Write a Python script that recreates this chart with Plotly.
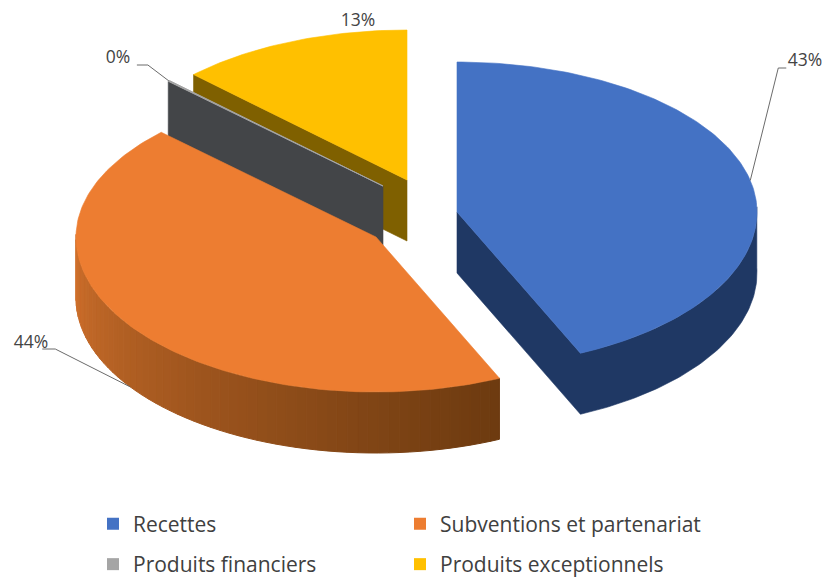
import math
import plotly.graph_objects as go

categories = ["Recettes", "Subventions et partenariat", "Produits financiers", "Produits exceptionnels"]
values = [43.25, 44.05, 0.1, 12.6]

top_colors = ["#4472C4", "#ED7D31", "#A5A5A5", "#FFC000"]
wall_colors = ["#1F3864", "#843C0C", "#434548", "#7F6000"]
centers = [(457, 212), (376, 237), (383, 186), (407, 180)]
RX, RY, RY_FRONT, DEPTH = 300, 150, 155, 61

total = sum(values)
angles = []
cum = 0
for v in values:
    angles.append((cum * 360 / total, (cum + v) * 360 / total))
    cum += v


def rim(c, a, dy=0):
    t = math.radians(a)
    ct = math.cos(t)
    ry = RY if ct > 0 else RY_FRONT
    return c[0] + RX * math.sin(t), c[1] - ry * ct + dy


def arc(c, a0, a1, dy=0):
    n = max(2, int(abs(a1 - a0) / 1.0) + 1)
    return [rim(c, a0 + (a1 - a0) * i / (n - 1), dy) for i in range(n)]


def lerp_hex(a, b, f):
    ca = [int(a[i:i + 2], 16) for i in (1, 3, 5)]
    cb = [int(b[i:i + 2], 16) for i in (1, 3, 5)]
    return "#%02x%02x%02x" % tuple(round(x + (y - x) * f) for x, y in zip(ca, cb))


fig = go.Figure()


def poly(pts, color, lw=0.6):
    xs = [p[0] for p in pts] + [pts[0][0]]
    ys = [p[1] for p in pts] + [pts[0][1]]
    fig.add_trace(go.Scatter(x=xs, y=ys, mode="lines", fill="toself", fillcolor=color,
                             line=dict(color=color, width=lw), hoverinfo="skip", showlegend=False))


def cut_wall(i, a):
    c = centers[i]
    p = rim(c, a)
    poly([c, p, (p[0], p[1] + DEPTH), (c[0], c[1] + DEPTH)], wall_colors[i])


# draw back to front: yellow, gray, orange, blue
cut_wall(3, angles[3][0])
poly([centers[3]] + arc(centers[3], *angles[3]), top_colors[3])
cut_wall(2, angles[2][0])
poly([centers[2]] + arc(centers[2], *angles[2]), top_colors[2], 1)
# orange outer wall with a lighting gradient
a0, a1 = angles[1][0], 271
n_seg = 58
for k in range(n_seg):
    s0 = a0 + (a1 - a0) * k / n_seg
    s1 = a0 + (a1 - a0) * (k + 1) / n_seg
    f = k / (n_seg - 1)
    col = lerp_hex("#6E3B10", "#D0702C", f ** 1.1)
    poly(arc(centers[1], s0, s1) + arc(centers[1], s1, s0, DEPTH), col, 1)
poly([centers[1]] + arc(centers[1], *angles[1]), top_colors[1])
# blue walls, as one outline (cut face plus outer rim)
c0 = centers[0]
poly([c0, (c0[0], c0[1] + DEPTH)] + arc(c0, angles[0][1], 88, DEPTH) + arc(c0, 88, angles[0][1]),
     wall_colors[0])
poly([c0] + arc(c0, *angles[0]), top_colors[0])

# leader lines, anchored on each slice's mid angle
mids = [(a + b) / 2 for a, b in angles]
p0 = rim(centers[0], mids[0])
p1 = rim(centers[1], mids[1], DEPTH)
p2 = rim(centers[2], mids[2])
leaders = [
    [p0, (p0[0] + 28, 68), (p0[0] + 36, 68)],
    [p1, (p1[0] - 75, 349), (p1[0] - 88, 349)],
    [p2, (p2[0] - 21, 65), (p2[0] - 32, 65)],
]
for L in leaders:
    fig.add_trace(go.Scatter(x=[p[0] for p in L], y=[p[1] for p in L], mode="lines",
                             line=dict(color="#6b6b6b", width=1), hoverinfo="skip", showlegend=False))

labels = [f"{round(v / total * 100)}%" for v in values]
label_pos = [(805, 62), (31, 344), (118, 59), (358, 22)]
fig.add_trace(go.Scatter(x=[p[0] for p in label_pos], y=[p[1] for p in label_pos], mode="text",
                         text=labels, textposition="middle center",
                         textfont=dict(family="Open Sans, sans-serif", size=17.5, color="#444444"),
                         hoverinfo="skip", showlegend=False))

# legend entries: the lower row sits on the bottom edge, the lowest place a legend can stay
legend_names = ["legend", "legend2", "legend3", "legend4"]
legend_xy = [(93, 524, "middle"), (400, 524, "middle"), (93, 585, "bottom"), (400, 585, "bottom")]
for name, cat, col in zip(legend_names, categories, top_colors):
    fig.add_trace(go.Scatter(x=[None], y=[None], mode="markers", name=cat, legend=name,
                             marker=dict(symbol="square", size=12, color=col)))

W, H = 827, 585
layout_legends = {}
for name, (lx, ly, anchor) in zip(legend_names, legend_xy):
    layout_legends[name] = dict(x=lx / W, y=1 - ly / H, xanchor="left", yanchor=anchor,
                                bgcolor="rgba(0,0,0,0)", borderwidth=0,
                                font=dict(family="Open Sans, sans-serif", size=21, color="#404040"))

fig.update_layout(
    width=W, height=H, autosize=False,
    margin=dict(l=0, r=0, t=0, b=0),
    paper_bgcolor="white", plot_bgcolor="white",
    xaxis=dict(range=[0, W], visible=False, fixedrange=True),
    yaxis=dict(range=[H, 0], visible=False, fixedrange=True),
    showlegend=True,
    **layout_legends,
)
fig.write_html("out.html", config={"displayModeBar": False},
               post_script="document.body.style.margin='0';")
